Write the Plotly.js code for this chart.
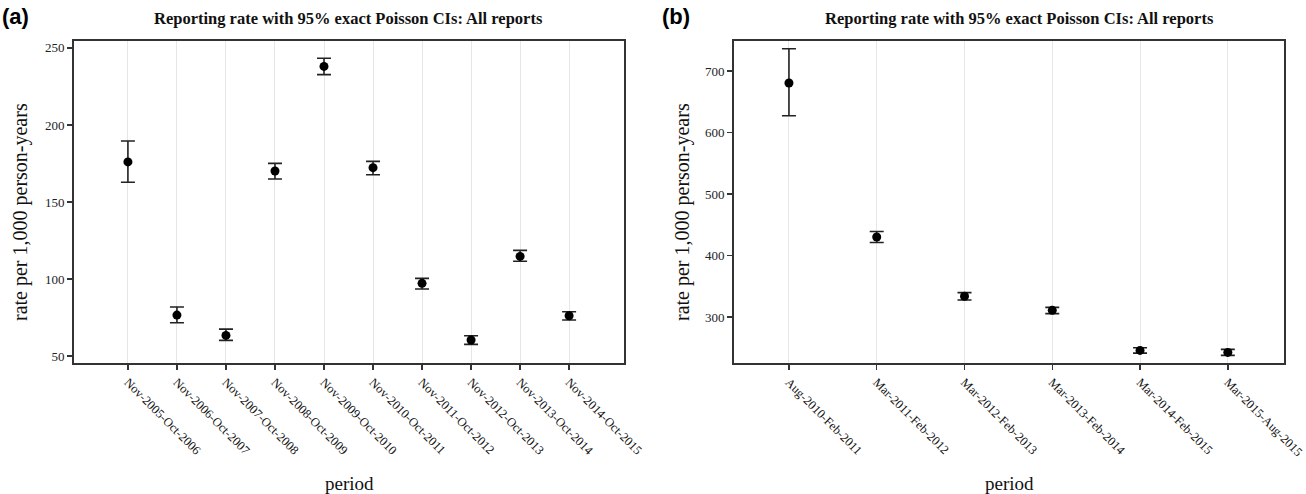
<!DOCTYPE html>
<html>
<head>
<meta charset="utf-8">
<script src="https://cdn.plot.ly/plotly-3.0.1.min.js"></script>
<style>html,body{margin:0;padding:0;background:#fff}#chart{width:1306px;height:494px}</style>
</head>
<body>
<div id="chart"></div>
<script>
// Panel (a)
const catsA = ["Nov-2005-Oct-2006","Nov-2006-Oct-2007","Nov-2007-Oct-2008","Nov-2008-Oct-2009","Nov-2009-Oct-2010","Nov-2010-Oct-2011","Nov-2011-Oct-2012","Nov-2012-Oct-2013","Nov-2013-Oct-2014","Nov-2014-Oct-2015"];
const rateA = [176, 76.6, 63.4, 170.1, 238, 172.3, 97.2, 60.4, 114.7, 76.2];
const lowA  = [162.8, 71.6, 60.2, 164.9, 232.7, 167.7, 93.5, 57.6, 111.5, 73.4];
const highA = [189.6, 81.8, 67.5, 175.1, 243.3, 176.4, 100.4, 63.2, 118.6, 78.8];
const yTicksA = [50, 100, 150, 200, 250];

// Panel (b)
const catsB = ["Aug-2010-Feb-2011","Mar-2011-Feb-2012","Mar-2012-Feb-2013","Mar-2013-Feb-2014","Mar-2014-Feb-2015","Mar-2015-Aug-2015"];
const rateB = [680.5, 430, 333.6, 310.7, 245.6, 242.3];
const lowB  = [627.2, 421, 327.5, 305.4, 241.2, 237.5];
const highB = [736.3, 439, 339.6, 315.6, 250, 247.2];
const yTicksB = [300, 400, 500, 600, 700];

const titleText = "Reporting rate with 95% exact Poisson CIs: All reports";
const yTitle = "rate per 1,000 person-years";
const xTitle = "period";

const W = 1306, H = 494;
const px = v => v / W;
const py = v => 1 - v / H;

const serif = "'Liberation Serif', 'Times New Roman', serif";

function trace(cats, rate, low, high, xa, ya) {
  return {
    type: 'scatter', mode: 'markers',
    x: cats, y: rate, xaxis: xa, yaxis: ya,
    marker: {color: '#000', size: 9},
    error_y: {
      type: 'data', symmetric: false,
      array: high.map((h, i) => h - rate[i]),
      arrayminus: low.map((l, i) => rate[i] - l),
      color: '#222', thickness: 1.6, width: 7
    },
    showlegend: false, hoverinfo: 'x+y'
  };
}

const xBase = {
  type: 'category', showgrid: true, gridcolor: '#e6e6e6', gridwidth: 1,
  showline: true, mirror: true, linecolor: '#333', linewidth: 2,
  ticks: 'outside', ticklen: 5, tickwidth: 1.5, tickcolor: '#333',
  tickangle: 45, tickfont: {family: serif, size: 12.5, color: '#111'},
  zeroline: false, fixedrange: true
};
const yBase = {
  showgrid: false, zeroline: false,
  showline: true, mirror: true, linecolor: '#333', linewidth: 2,
  ticks: 'outside', ticklen: 5, tickwidth: 1.5, tickcolor: '#333',
  tickfont: {family: serif, size: 13, color: '#222'},
  tickmode: 'array', fixedrange: true
};

const layout = {
  width: W, height: H,
  margin: {l: 0, r: 0, t: 0, b: 0},
  paper_bgcolor: '#fff', plot_bgcolor: '#fff',
  xaxis: Object.assign({}, xBase, {domain: [px(74), px(624)], range: [-1.1, 10.12], anchor: 'y'}),
  yaxis: Object.assign({}, yBase, {domain: [py(363), py(41)], range: [45.5, 254.5], tickvals: yTicksA, anchor: 'x'}),
  xaxis2: Object.assign({}, xBase, {domain: [px(734), px(1284)], range: [-0.626, 5.64], anchor: 'y2'}),
  yaxis2: Object.assign({}, yBase, {domain: [py(363), py(41)], range: [225.1, 748.8], tickvals: yTicksB, anchor: 'x2'}),
  annotations: [
    {text: '<b>(a)</b>', xref: 'paper', yref: 'paper', x: px(0), y: py(2), xanchor: 'left', yanchor: 'top', showarrow: false, font: {family: "'Liberation Sans', Arial, sans-serif", size: 22, color: '#000'}},
    {text: '<b>(b)</b>', xref: 'paper', yref: 'paper', x: px(660), y: py(2), xanchor: 'left', yanchor: 'top', showarrow: false, font: {family: "'Liberation Sans', Arial, sans-serif", size: 22, color: '#000'}},
    {text: '<b>' + titleText + '</b>', xref: 'paper', yref: 'paper', x: px(348), y: py(18), xanchor: 'center', yanchor: 'middle', showarrow: false, font: {family: serif, size: 16.5, color: '#111'}},
    {text: '<b>' + titleText + '</b>', xref: 'paper', yref: 'paper', x: px(1019), y: py(18), xanchor: 'center', yanchor: 'middle', showarrow: false, font: {family: serif, size: 16.5, color: '#111'}},
    {text: yTitle, xref: 'paper', yref: 'paper', x: px(20), y: py(212), xanchor: 'center', yanchor: 'middle', textangle: -90, showarrow: false, font: {family: serif, size: 20, color: '#111'}},
    {text: yTitle, xref: 'paper', yref: 'paper', x: px(682), y: py(212), xanchor: 'center', yanchor: 'middle', textangle: -90, showarrow: false, font: {family: serif, size: 20, color: '#111'}},
    {text: xTitle, xref: 'paper', yref: 'paper', x: px(349), y: py(483), xanchor: 'center', yanchor: 'middle', showarrow: false, font: {family: serif, size: 19, color: '#111'}},
    {text: xTitle, xref: 'paper', yref: 'paper', x: px(1009), y: py(483), xanchor: 'center', yanchor: 'middle', showarrow: false, font: {family: serif, size: 19, color: '#111'}}
  ]
};

Plotly.newPlot('chart', [
  trace(catsA, rateA, lowA, highA, 'x', 'y'),
  trace(catsB, rateB, lowB, highB, 'x2', 'y2')
], layout, {displayModeBar: false, staticPlot: true});
</script>
</body>
</html>
